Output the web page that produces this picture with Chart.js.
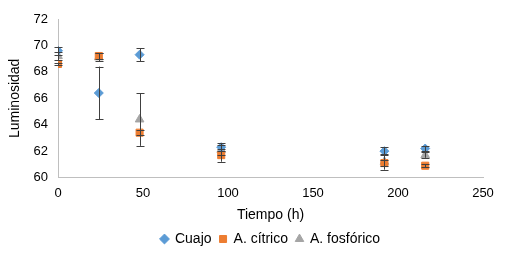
<!DOCTYPE html>
<html>
<head>
<meta charset="utf-8">
<script src="https://cdn.jsdelivr.net/npm/chart.js@4"></script>
<style>
  html, body { margin: 0; padding: 0; background: #fff; }
  #wrap { width: 507px; height: 266px; }
</style>
</head>
<body>
<div id="wrap"><canvas id="myChart"></canvas></div>
<script>
// Data
const tiempos = [0, 24, 48, 96, 192, 216];
const cuajo = [69.6, 66.4, 69.3, 62.3, 62.0, 62.2];
const cuajoErr = [0.3, 2.0, 0.5, 0.3, 0.3, 0.2];
const citrico = [68.6, 69.2, 63.4, 61.7, 61.1, 60.9];
const citricoErr = [0.1, 0.2, 0.2, 0.5, 0.2, 0.1];
const fosforico = [69.2, 69.1, 64.4, 62.1, 61.2, 61.7];
const fosforicoErr = [0.3, 0.3, 2.0, 0.4, 0.6, 0.2];
const seriesLabels = ["Cuajo", "A. cítrico", "A. fosfórico"];

const toPoints = (vals) => vals.map((v, i) => ({ x: tiempos[i], y: v }));

// Error bars drawn through the chart scales
const errorBarPlugin = {
  id: "errorBars",
  afterDatasetsDraw(chart) {
    const ctx = chart.ctx;
    const xs = chart.scales.x;
    const ys = chart.scales.y;
    const errs = [cuajoErr, citricoErr, fosforicoErr];
    ctx.save();
    ctx.strokeStyle = "#404040";
    ctx.lineWidth = 1;
    chart.data.datasets.forEach((ds, di) => {
      ds.data.forEach((p, i) => {
        const e = errs[di][i];
        const px = Math.round(xs.getPixelForValue(p.x)) + 0.5;
        const top = ys.getPixelForValue(p.y + e);
        const bot = ys.getPixelForValue(p.y - e);
        ctx.beginPath();
        ctx.moveTo(px, top);
        ctx.lineTo(px, bot);
        ctx.moveTo(px - 4, Math.round(top) + 0.5);
        ctx.lineTo(px + 4, Math.round(top) + 0.5);
        ctx.moveTo(px - 4, Math.round(bot) + 0.5);
        ctx.lineTo(px + 4, Math.round(bot) + 0.5);
        ctx.stroke();
      });
    });
    ctx.restore();
  },
};

Chart.defaults.font.family = "'Liberation Sans', Arial, sans-serif";
Chart.defaults.color = "#000";

const ctx = document.getElementById("myChart").getContext("2d");
new Chart(ctx, {
  type: "scatter",
  data: {
    datasets: [
      {
        label: seriesLabels[0],
        data: toPoints(cuajo),
        pointStyle: "rectRot",
        pointRadius: 4.5,
        backgroundColor: "#5B9BD5",
        borderColor: "#5B9BD5",
      },
      {
        label: seriesLabels[1],
        data: toPoints(citrico),
        pointStyle: "rect",
        pointRadius: 5,
        backgroundColor: "#ED7D31",
        borderColor: "#ED7D31",
      },
      {
        label: seriesLabels[2],
        data: toPoints(fosforico),
        pointStyle: "triangle",
        pointRadius: 5,
        backgroundColor: "#A5A5A5",
        borderColor: "#A5A5A5",
      },
    ],
  },
  options: {
    responsive: true,
    maintainAspectRatio: false,
    animation: false,
    layout: { padding: { left: 4, right: 24, top: 19, bottom: 10 } },
    scales: {
      x: {
        type: "linear",
        min: 0,
        max: 250,
        ticks: { stepSize: 50, font: { size: 13 }, padding: 4 },
        grid: { display: false, drawTicks: true, tickLength: 4 },
        border: { color: "#BFBFBF" },
        title: {
          display: true,
          text: "Tiempo (h)",
          font: { size: 14 },
          padding: { top: 2, bottom: 0 },
        },
      },
      y: {
        min: 60,
        max: 72,
        afterFit: (scale) => {
          scale.width = 54;
        },
        ticks: { stepSize: 2, font: { size: 13 }, padding: 6 },
        grid: { display: false, drawTicks: true, tickLength: 4 },
        border: { color: "#BFBFBF" },
        title: {
          display: true,
          text: "Luminosidad",
          font: { size: 14 },
          padding: { top: 3, bottom: 4 },
        },
      },
    },
    plugins: {
      legend: {
        position: "bottom",
        fullSize: false,
        labels: {
          usePointStyle: true,
          boxWidth: 7,
          boxHeight: 7,
          padding: 8,
          font: { size: 14 },
        },
      },
      tooltip: { enabled: false },
    },
  },
  plugins: [errorBarPlugin],
});
</script>
</body>
</html>
